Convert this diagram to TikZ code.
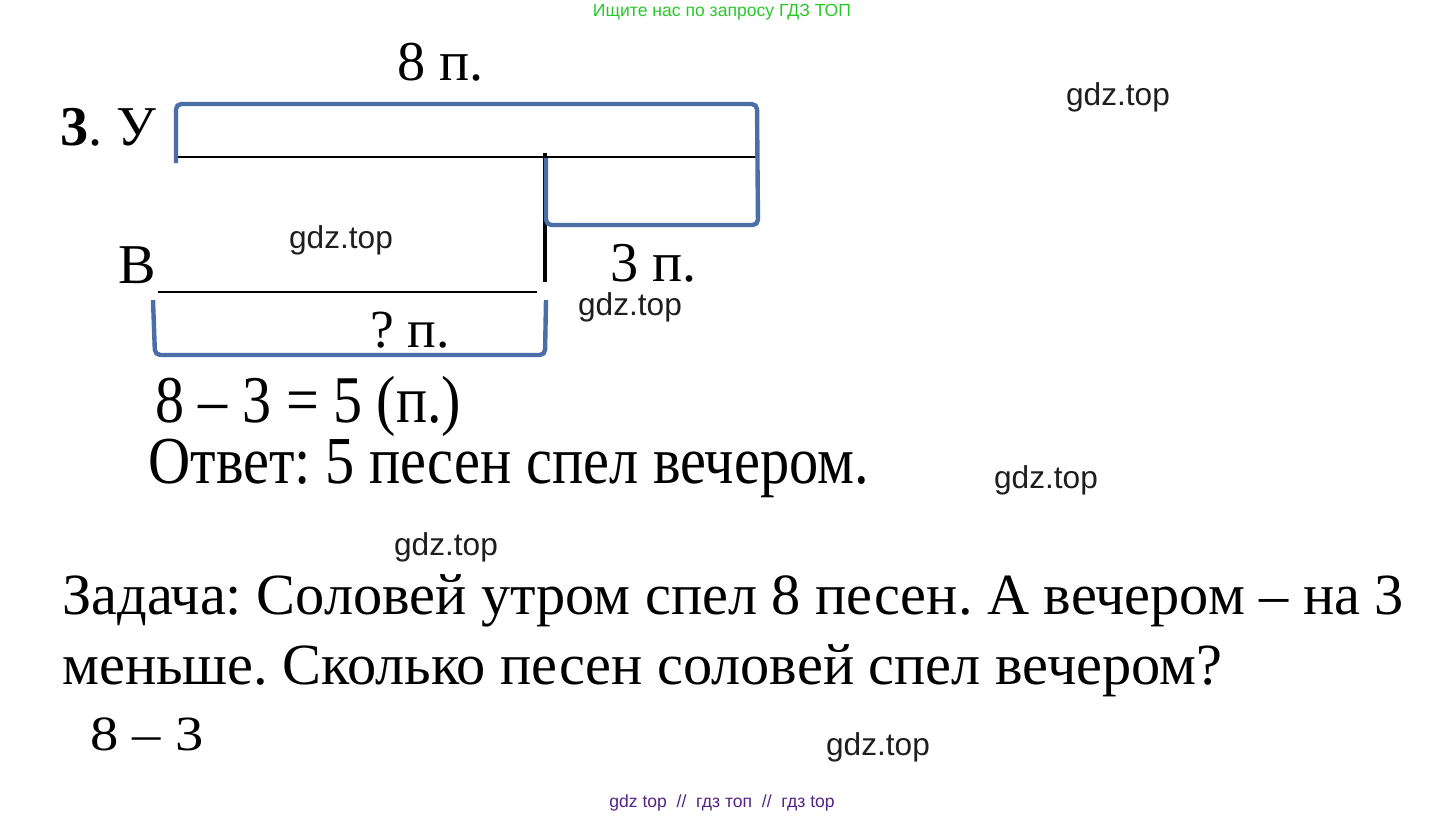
\documentclass[tikz,border=0pt]{standalone}
\usepackage{fontspec}
\setmainfont{Liberation Serif}
\setsansfont{Liberation Sans}
\newfontfamily\narrowserif[FakeStretch=0.87]{Liberation Serif}
\newfontfamily\wideserif[FakeStretch=1.15]{Liberation Serif}
\frenchspacing
\usetikzlibrary{positioning}

\definecolor{brblue}{RGB}{74,110,165}
\definecolor{wmgreen}{RGB}{40,200,40}
\definecolor{wmpurple}{RGB}{85,35,135}
\definecolor{wmgray}{RGB}{30,30,30}

\tikzset{
  txt/.style={anchor=base west, inner sep=0pt, font=\fontsize{#1}{#1}\selectfont},
  wm/.style={anchor=base, inner sep=0pt, text=wmgray, font=\sffamily\fontsize{18}{18}\selectfont},
  seg/.style={line width=1.3pt},
  brace/.style={brblue, line width=2.5pt, rounded corners=3pt}
}

\begin{document}
\begin{tikzpicture}[x=0.02cm, y=-0.02cm]
\useasboundingbox (0,0) rectangle (1445,816);

% watermarks
\node[inner sep=0pt, text=wmgreen, font=\sffamily\fontsize{10}{10}\selectfont] (search) at (722,12) {Ищите нас по запросу ГДЗ ТОП};
\node[anchor=base, inner sep=0pt, text=wmpurple, font=\sffamily\fontsize{10}{10}\selectfont] (footer) at (722,807) {gdz top\ \ //\ \ гдз топ\ \ //\ \ гдз top};
\node[wm] (wmA) at (1118,105) {gdz.top};
\node[wm] (wmB) at (341,248) {gdz.top};
\node[wm] (wmC) at (630,315) {gdz.top};
\node[wm] (wmD) at (1046,488) {gdz.top};
\node[wm] (wmE) at (446,555) {gdz.top};
\node[wm] (wmF) at (878,755) {gdz.top};

% labels
\node[txt=32] (num) at (60,145) {\textbf{3}. У};
\node[txt=32] (top) at (397,80) {8 п.};
\node[txt=32] (eve) at (118,283) {В};
\node[txt=32] (diff) at (610,281) {3 п.};
\node[txt=30.5] (ask) at (370,347) {? п.};

% morning segment
\coordinate (mA) at (176,157);
\coordinate (mB) at (757,157);
\draw[seg] (mA) -- (mB);
% evening segment
\coordinate (eA) at (158,292);
\coordinate (eB) at (537,292);
\draw[seg] (eA) -- (eB);
% mark
\coordinate (tA) at (545,153);
\coordinate (tB) at (545,282);
\draw[line width=1.8pt] (tA) -- (tB);

% braces
\draw[brace] (176,163) -- (176,104) -- (757,104) -- (758,225) -- (546,225) -- (546,158);
\draw[brace] (153,300) -- (155,355) -- (545,355) -- (546,300);

% solution
\node[txt=38] (sol) at (155,422) {\narrowserif 8 – 3 = 5 (п.)};
\node[txt=38.2] (ans) at (148,483) {\narrowserif Ответ: 5 песен спел вечером.};
\node[txt=33.2] (taskA) at (62,614) {Задача: Соловей утром спел 8 песен. А вечером – на 3};
\node[txt=33.2] (taskB) at (62,684) {меньше. Сколько песен соловей спел вечером?};
\node[txt=28] (expr) at (90,750) {\wideserif 8 – 3};

\end{tikzpicture}
\end{document}
